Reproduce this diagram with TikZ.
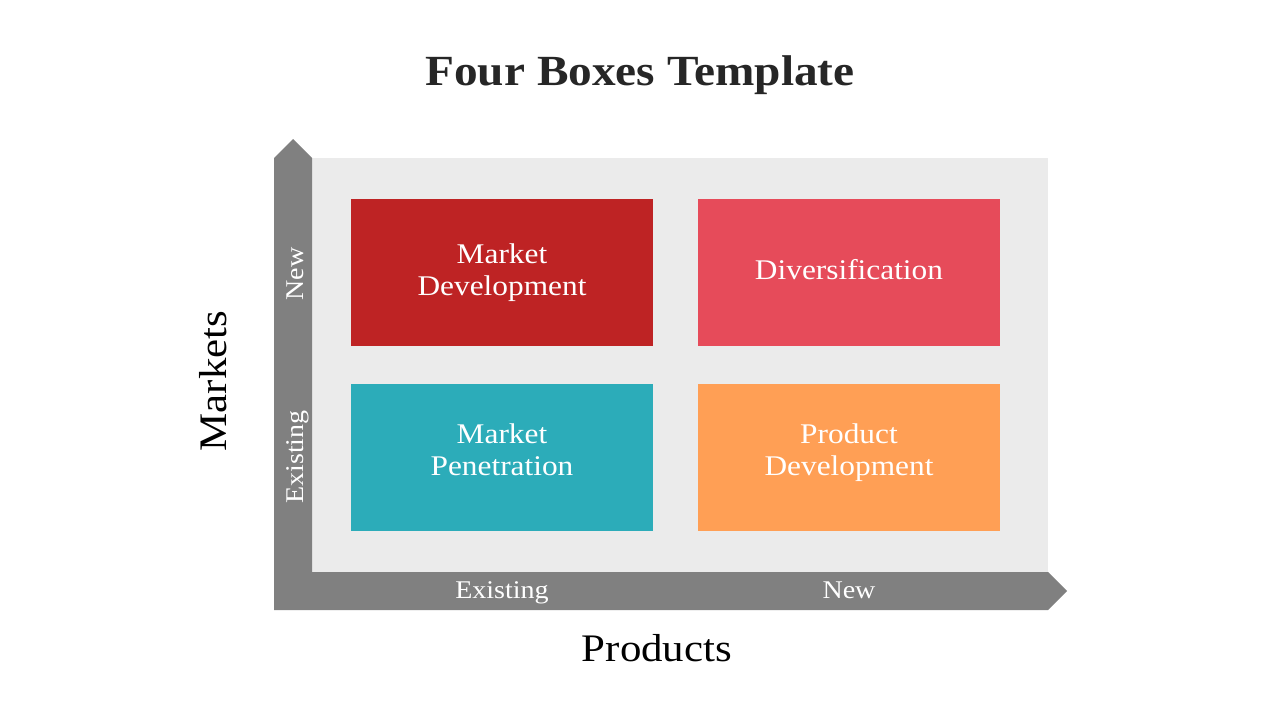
\documentclass[tikz,border=0pt]{standalone}
\usepackage{fontspec}
\setmainfont{Liberation Serif}[FakeStretch=1.1]
\definecolor{axisgray}{HTML}{808080}
\definecolor{panelgray}{HTML}{EBEBEB}
\definecolor{mdred}{HTML}{BE2324}
\definecolor{divpink}{HTML}{E64B5A}
\definecolor{mpteal}{HTML}{2CACB9}
\definecolor{pdorange}{HTML}{FF9F55}
\definecolor{titlegray}{HTML}{262626}
\begin{document}
\begin{tikzpicture}[x=1pt,y=-1pt,
		box/.style={minimum width=302pt,minimum height=147pt,inner sep=0pt,text=white,
			align=center,text depth=6.3pt,font=\fontsize{28.5}{32}\selectfont},
		lowrow/.style={text depth=16.3pt},
		axislabel/.style={text=white,anchor=base,font=\fontsize{25.5}{30}\selectfont},
		axisname/.style={text=black,anchor=base,font=\fontsize{39}{44}\selectfont}]
		\useasboundingbox (0,0) rectangle (1280,720);
		\node[anchor=base,font=\bfseries\fontsize{43}{48}\selectfont,text=titlegray] (title) at (640,85) {Four Boxes Template};
		\fill[panelgray] (312,158) rectangle (1048,572);
		\fill[axisgray] (274,610) -- (274,158) -- (293,139) -- (312,158) -- (312,572)
			-- (1048,572) -- (1067,591) -- (1048,610) -- cycle;
		\node[box,fill=mdred] (mdev) at (502,272.5) {Market\\Development};
		\node[box,fill=divpink] (divers) at (849,272.5) {Diversification};
		\node[box,lowrow,fill=mpteal] (mpen) at (502,457.5) {Market\\Penetration};
		\node[box,lowrow,fill=pdorange] (pdev) at (849,457.5) {Product\\Development};
		\node[axislabel,rotate=90] (mnew) at (303,274) {New};
		\node[axislabel,rotate=90] (mexist) at (303,457) {Existing};
		\node[axislabel] (pexist) at (502,598) {Existing};
		\node[axislabel] (pnew) at (849,598) {New};
		\node[axisname,rotate=90] (markets) at (226,381) {Markets};
		\node[axisname] (products) at (657,661) {Products};
	\end{tikzpicture}
\end{document}
